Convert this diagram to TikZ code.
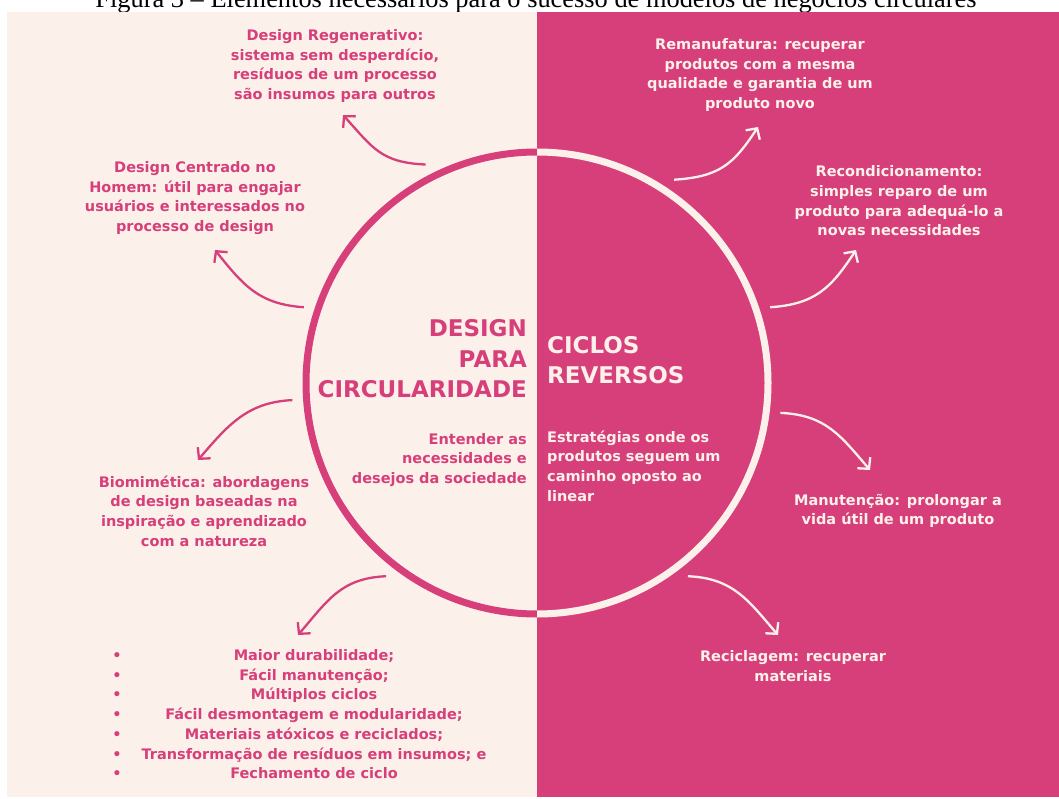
\documentclass[tikz,border=0pt]{standalone}
\usepackage{fontspec}
\setmainfont{DejaVu Sans}
\newfontfamily\legendafont{Liberation Serif}
\usetikzlibrary{arrows.meta}
\definecolor{rosa}{RGB}{214,63,122}
\definecolor{creme}{RGB}{252,241,234}
\begin{document}
\begin{tikzpicture}[x=1pt,y=-1pt,
  rosatxt/.style={text=rosa,font=\bfseries\fontsize{14.5}{19.7}\selectfont,align=center,inner sep=0pt},
  cremetxt/.style={rosatxt,text=creme},
  titulo/.style={font=\bfseries\fontsize{23}{30.5}\selectfont,inner sep=0pt},
  seta/.style={line width=2.3pt,-{Straight Barb[length=8pt,width=17pt]}}]
\fill[white] (0,0) rectangle (1059,799);
\useasboundingbox (0,0) rectangle (1059,799);
\node[font=\legendafont\fontsize{26.4}{30}\selectfont,anchor=base] (legenda) at (536,8) {Figura 3 – Elementos necessários para o sucesso de modelos de negócios circulares};
\fill[creme] (7,12) rectangle (537,797);
\fill[rosa] (537,12) rectangle (1059,797);

\node[circle,minimum size=490pt,inner sep=0pt] (orbita) at (537,383) {};
\begin{scope}
\clip (0,0) rectangle (537,799);
\draw[rosa,line width=7pt] (orbita.center) circle[radius=231pt];
\end{scope}
\begin{scope}
\clip (537,0) rectangle (1059,799);
\draw[creme,line width=7pt] (orbita.center) circle[radius=231pt];
\end{scope}

\node[titulo,text=rosa,align=right,anchor=east] (design) at (527,359) {DESIGN\\PARA\\CIRCULARIDADE};
\node[titulo,text=creme,align=left,anchor=west] (ciclos) at (547,360) {CICLOS\\REVERSOS};
\node[rosatxt,align=right,anchor=east] (entender) at (527,460) {Entender as\\necessidades e\\desejos da sociedade};
\node[cremetxt,align=left,anchor=west] (estrategias) at (547,466) {Estratégias onde os\\produtos seguem um\\caminho oposto ao\\linear};

\node[rosatxt] (regenerativo) at (335,66) {Design Regenerativo:\\sistema sem desperdício,\\resíduos de um processo\\são insumos para outros};
\node[rosatxt] (centrado) at (195,198) {Design Centrado no\\Homem: útil para engajar\\usuários e interessados no\\processo de design};
\node[rosatxt] (biomimetica) at (204,511) {Biomimética: abordagens\\de design baseadas na\\inspiração e aprendizado\\com a natureza};
\foreach \linha [count=\i] in {Maior durabilidade;,Fácil manutenção;,Múltiplos ciclos,Fácil desmontagem e modularidade;,Materiais atóxicos e reciclados;,Transformação de resíduos em insumos; e,Fechamento de ciclo}{
  \node[rosatxt,anchor=base] (marca\i) at (117,{660.5+(\i-1)*19.7}) {•};
  \node[rosatxt,anchor=base] (item\i) at (314,{660.5+(\i-1)*19.7}) {\linha};
}

\node[cremetxt] (remanufatura) at (760,75) {Remanufatura: recuperar\\produtos com a mesma\\qualidade e garantia de um\\produto novo};
\node[cremetxt] (recondicionamento) at (899,201) {Recondicionamento:\\simples reparo de um\\produto para adequá-lo a\\novas necessidades};
\node[cremetxt] (manutencao) at (898,511) {Manutenção: prolongar a\\vida útil de um produto};
\node[cremetxt] (reciclagem) at (793,666) {Reciclagem: recuperar\\materiais};

\coordinate (p-regenerativo) at (343,115);
\coordinate (p-centrado) at (215,250);
\coordinate (p-biomimetica) at (198,460);
\coordinate (p-itens) at (298,635);
\coordinate (p-remanufatura) at (758,127);
\coordinate (p-recondicionamento) at (856,250);
\coordinate (p-manutencao) at (870,470);
\coordinate (p-reciclagem) at (778,635);

\draw[seta,rosa] (orbita.117) .. controls +(-45,-2) and +(30,33) .. (p-regenerativo);
\draw[seta,rosa] (orbita.162) .. controls +(-45,-3) and +(28,35) .. (p-centrado);
\draw[seta,rosa] (orbita.184) .. controls +(-45,2) and +(30,-35) .. (p-biomimetica);
\draw[seta,rosa] (orbita.232) .. controls +(-45,2) and +(30,-35) .. (p-itens);
\draw[seta,creme] (orbita.56) .. controls +(45,-3) and +(-25,38) .. (p-remanufatura);
\draw[seta,creme] (orbita.18) .. controls +(45,-3) and +(-25,38) .. (p-recondicionamento);
\draw[seta,creme] (orbita.-7) .. controls +(45,2) and +(-30,-35) .. (p-manutencao);
\draw[seta,creme] (orbita.-52) .. controls +(45,2) and +(-30,-35) .. (p-reciclagem);
\end{tikzpicture}
\end{document}
